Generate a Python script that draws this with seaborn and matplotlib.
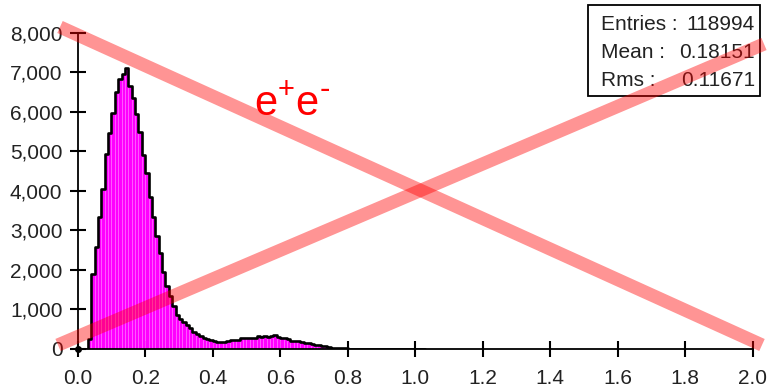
import numpy as np
import pandas as pd
import matplotlib
matplotlib.use("Agg")
import matplotlib.pyplot as plt
from matplotlib.lines import Line2D
from matplotlib.patches import Rectangle
from matplotlib.ticker import StrMethodFormatter
import seaborn as sns

# histogram contents, 0.01 wide bins starting at 0.00
bin_start = 0.0
bin_width = 0.01
counts = [
    0, 0, 0, 250, 1900, 2570, 3330, 4040, 4930, 5470,
    5980, 6490, 6820, 6950, 7110, 6650, 6340, 5950, 5500, 4900,
    4450, 3850, 3350, 2850, 2430, 1950, 1600, 1330, 1080, 870,
    760, 680, 600, 520, 430, 370, 330, 290, 250, 220,
    190, 185, 180, 185, 190, 215, 225, 230, 270, 280,
    285, 280, 290, 320, 310, 320, 315, 330, 345, 300,
    280, 275, 250, 210, 205, 200, 175, 150, 140, 125,
    110, 95, 80, 65, 45, 35, 30, 25, 20, 15,
    12, 10, 12, 8, 0, 10, 8, 0, 10, 10,
    0, 10, 8, 10, 0, 8, 10, 8, 10, 0,
    8, 5, 0,
]

x_ticks = [0.0, 0.2, 0.4, 0.6, 0.8, 1.0, 1.2, 1.4, 1.6, 1.8, 2.0]
y_ticks = [0, 1000, 2000, 3000, 4000, 5000, 6000, 7000, 8000]

stat_labels = ["Entries :", "Mean :", "Rms :"]
stat_values = ["118994", "0.18151", "0.11671"]

n_bins = len(counts)
bin_range = (bin_start, bin_start + bin_width * n_bins)
df = pd.DataFrame({"x": bin_start + bin_width * (np.arange(n_bins) + 0.5), "n": counts})

sns.set_style("white")
plt.rcParams["font.family"] = ["Liberation Sans", "DejaVu Sans"]
plt.rcParams["mathtext.default"] = "regular"

W, H = 769, 388
fig = plt.figure(figsize=(W / 100, H / 100), dpi=100)


def px(x, y):
    # pixel position (from top left) to figure fraction
    return x / W, 1 - y / H


x0, y0 = 77.7, 349.0
x1, y1 = 752.7, 32.7
ax = fig.add_axes([x0 / W, 1 - y0 / H, (x1 - x0) / W, (y0 - y1) / H])

# filled bars with thin light stripes, then the black outline
sns.histplot(data=df, x="x", weights="n", bins=n_bins, binrange=bin_range, element="bars",
             color="#ff00ff", alpha=1, edgecolor="#ff70ff", linewidth=0.4, ax=ax)
sns.histplot(data=df, x="x", weights="n", bins=n_bins, binrange=bin_range, element="step",
             fill=False, color="black", linewidth=1.9, ax=ax)
ax.plot([0], [0], "o", color="black", markersize=4, clip_on=False, zorder=5)

ax.set_xlim(0, 2.0)
ax.set_ylim(0, 8000)
ax.set_xticks(x_ticks)
ax.set_yticks(y_ticks)
ax.xaxis.set_major_formatter(StrMethodFormatter("{x:.1f}"))
ax.yaxis.set_major_formatter(StrMethodFormatter("{x:,.0f}"))
ax.set_xlabel("")
ax.set_ylabel("")

ax.spines["top"].set_visible(False)
ax.spines["right"].set_visible(False)
for s in ["left", "bottom"]:
    ax.spines[s].set_linewidth(1.3)
    ax.spines[s].set_color("black")
ax.tick_params(axis="both", direction="inout", width=1.5, color="black",
               labelsize=15, labelcolor="#222222", left=True, bottom=True)
ax.tick_params(axis="x", length=11, pad=9)
ax.tick_params(axis="y", length=12, pad=5)

# statistics box
bx, by = px(588, 5)
bx2, by2 = px(760, 96)
fig.add_artist(Rectangle((bx, by2), bx2 - bx, by - by2, transform=fig.transFigure,
                         facecolor="white", edgecolor="black", linewidth=1.3, zorder=6))
for i, (lab, val) in enumerate(zip(stat_labels, stat_values)):
    yb = 30 + 28 * i
    fig.text(*px(601, yb), lab, fontsize=15, color="#222222", va="baseline", ha="left", zorder=7)
    fig.text(*px(755, yb), val, fontsize=15, color="#222222", va="baseline", ha="right", zorder=7)

# channel label
fig.text(*px(292, 115), r"e$^{+}$e$^{\text{-}}$", fontsize=30, color="#ff0000",
         ha="center", va="baseline", zorder=8)

# red cross over the plot
for (xa, ya), (xb, yb) in [((60, 27), (762, 345)), ((58, 345), (764, 44))]:
    (fa, ga), (fb, gb) = px(xa, ya), px(xb, yb)
    fig.add_artist(Line2D([fa, fb], [ga, gb], transform=fig.transFigure,
                          color="#ff0000", alpha=0.42, linewidth=9.5,
                          solid_capstyle="butt", zorder=9))

fig.savefig("out.png", dpi=100)
